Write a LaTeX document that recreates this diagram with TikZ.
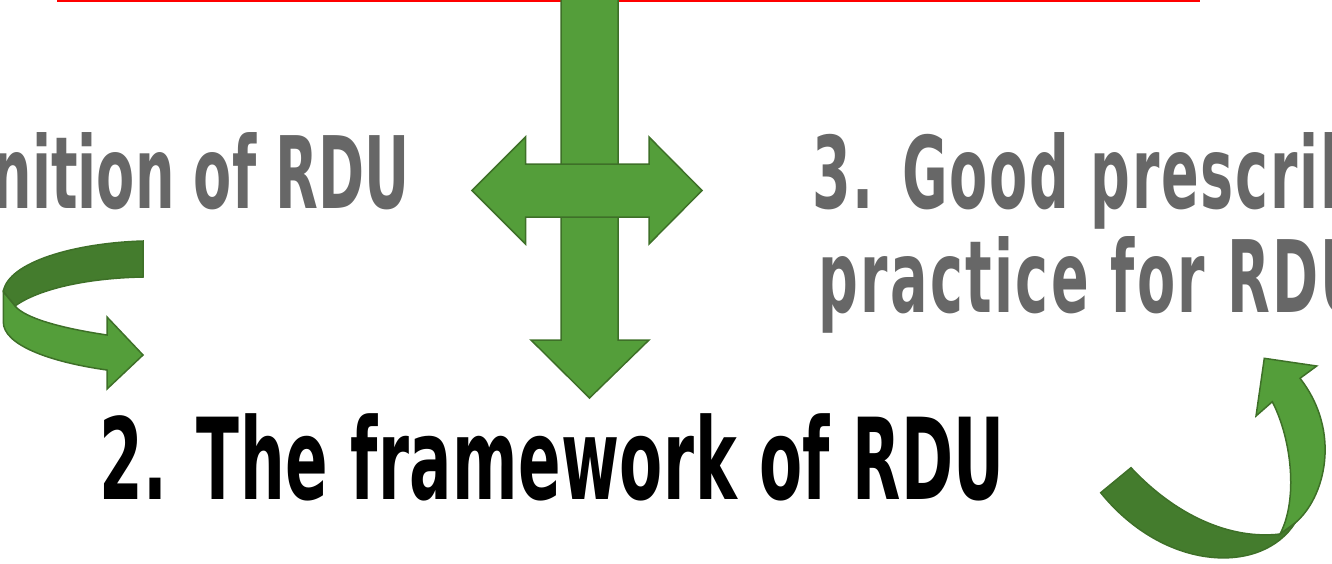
\documentclass[tikz,border=0pt]{standalone}
\usepackage{fontspec}
\newfontfamily\rdufont[FakeStretch=0.556]{DejaVu Sans}
\usetikzlibrary{positioning}
\definecolor{arrgreen}{RGB}{84,158,58}
\definecolor{arrdark}{RGB}{68,124,45}
\definecolor{arrline}{RGB}{62,112,40}
\definecolor{txtgray}{RGB}{103,103,103}
\tikzset{
  blockarrow/.style={fill=arrgreen, draw=arrline, line width=1.5pt, line join=miter},
  backband/.style={blockarrow, fill=arrdark},
  topic/.style={inner sep=0pt, anchor=base west, text=txtgray,
    font={\rdufont\bfseries\fontsize{100pt}{104pt}\selectfont}},
  widetopic/.style={topic,
    font={\rdufont\bfseries\fontsize{100pt}{104pt}\selectfont\addfontfeatures{LetterSpace=#1}}},
  mainline/.style={topic, text=black,
    font={\rdufont\bfseries\fontsize{113pt}{118pt}\selectfont\addfontfeatures{LetterSpace=0.4}}}
}
\begin{document}
\begin{tikzpicture}[x=1pt, y=-1pt]
        \useasboundingbox (0,0) rectangle (1332,563);
        \draw[red, line width=2pt] (57,1) -- (1200,1);

        \draw[blockarrow] (561,-5) -- (561,340) -- (531,340) -- (589.5,398) -- (649,340) -- (618,340) -- (618,-5) -- cycle;
        \draw[blockarrow] (472,190.5) -- (525.5,137) -- (525.5,164) -- (649,164) -- (649,137) -- (702,190.5)
              -- (649,244) -- (649,217) -- (525.5,217) -- (525.5,244) -- cycle;

        \node[topic, anchor=base east] (defn) at (410,208) {nition of RDU};
        \node[widetopic=1.8] (good) at (812,208) {3. Good prescrib};
        \node[widetopic=2.4] (practice) at (818,312) {practice for RDU};
        \node[mainline] (frame) at (99,499) {2. The framework of RDU};

        \draw[backband] (143,241) .. controls (75,243) and (8,262) .. (3.3,291.7) -- (15,306)
              .. controls (40,288) and (90,278) .. (143,277) -- cycle;
        \draw[blockarrow] (3.3,291.7) -- (3.3,322) .. controls (3.3,345) and (50,362) .. (107,370)
              -- (107,389) -- (143,355) -- (107,317) -- (107,335)
              .. controls (60,328) and (25,318) .. (15,306) -- cycle;

        \draw[backband] (1100.7,492.7) -- (1131,467.7) .. controls (1175,515) and (1230,540) .. (1280,534)
              -- (1295,523) .. controls (1262,575) and (1165,572) .. (1100.7,492.7) -- cycle;
        \draw[blockarrow] (1295,523) .. controls (1325,498) and (1342,432) .. (1300,378.3)
              -- (1316.7,366) -- (1264.3,358.3) -- (1256,416) -- (1272.3,401.7)
              .. controls (1292,440) and (1298,500) .. (1280,534) -- cycle;
\end{tikzpicture}
\end{document}
